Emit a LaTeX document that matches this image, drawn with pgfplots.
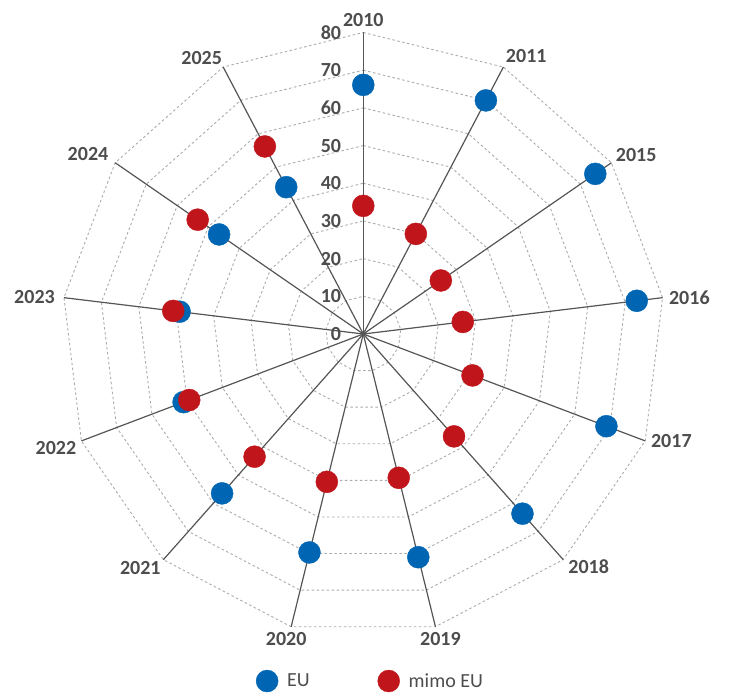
\documentclass[border=0pt]{standalone}
\usepackage{fontspec}
\setmainfont{Carlito}
\usepackage{pgfplots}
\pgfplotsset{compat=1.18}
\usepgfplotslibrary{polar}
\definecolor{eublue}{HTML}{0066B3}
\definecolor{mimored}{HTML}{C0161B}
\definecolor{txt}{HTML}{4D4D4D}
\definecolor{spokec}{HTML}{555555}
\definecolor{gridc}{HTML}{ABABAB}
\tikzset{yr/.style={inner sep=0pt, text=txt, font=\bfseries\fontsize{20}{22}\selectfont}}
\begin{document}
\begin{tikzpicture}
\path[use as bounding box] (-363.3pt,-366pt) rectangle (365.7pt,334pt);
\begin{polaraxis}[
  at={(0pt,0pt)}, anchor=center,
  width=603pt, height=603pt, scale only axis,
  xmin=0, xmax=360, ymin=0, ymax=80,
  hide axis, clip=false,
  legend style={at={(0.512,-0.0755)}, anchor=center, draw=none, fill=none,
    legend columns=2, font=\fontsize{20}{22}\selectfont, text=txt,
    /tikz/every odd column/.append style={column sep=7pt},
    /tikz/every even column/.append style={column sep=66pt}},
]
% polygon grid
\pgfplotsinvokeforeach{10,20,30,40,50,60,70,80}{
\addplot[gridc, line width=0.9pt, dash pattern=on 2.5pt off 2.5pt, forget plot] coordinates {
(90,#1) (62.3077,#1) (34.6154,#1) (6.9231,#1) (339.2308,#1) (311.5385,#1) (283.8462,#1)
(256.1538,#1) (228.4615,#1) (200.7692,#1) (173.0769,#1) (145.3846,#1) (117.6923,#1) (90,#1)};
}
% spokes
\pgfplotsinvokeforeach{90,62.3077,34.6154,6.9231,339.2308,311.5385,283.8462,256.1538,228.4615,200.7692,173.0769,145.3846,117.6923}{
\addplot[spokec, line width=1.2pt, forget plot] coordinates {(0,0) (#1,80)};
}
% year labels
\node[yr, anchor=south, yshift=6pt] at (axis cs:90,80) {2010};
\node[yr, anchor=south west, xshift=2.4pt, yshift=4.4pt] at (axis cs:62.3077,80) {2011};
\node[yr, anchor=south west, xshift=4.3pt, yshift=0.5pt] at (axis cs:34.6154,80) {2015};
\node[yr, anchor=west, xshift=6.3pt] at (axis cs:6.9231,80) {2016};
\node[yr, anchor=west, xshift=5.7pt] at (axis cs:339.2308,80) {2017};
\node[yr, anchor=north west, xshift=5pt] at (axis cs:311.5385,80) {2018};
\node[yr, anchor=north, xshift=5pt, yshift=-5.3pt] at (axis cs:283.8462,80) {2019};
\node[yr, anchor=north, xshift=-5pt, yshift=-5.3pt] at (axis cs:256.1538,80) {2020};
\node[yr, anchor=north east, xshift=-2.6pt, yshift=-2pt] at (axis cs:228.4615,80) {2021};
\node[yr, anchor=north east, xshift=-5pt] at (axis cs:200.7692,80) {2022};
\node[yr, anchor=east, xshift=-9pt, yshift=1pt] at (axis cs:173.0769,80) {2023};
\node[yr, anchor=south east, xshift=-6.7pt, yshift=1.6pt] at (axis cs:145.3846,80) {2024};
\node[yr, anchor=south east, xshift=-1pt, yshift=2pt] at (axis cs:117.6923,80) {2025};
% radial tick labels
\pgfplotsinvokeforeach{0,10,20,30,40,50,60,70,80}{
\node[yr, anchor=east, xshift=-22pt] at (axis cs:90,#1) {#1};
}
% data
\addplot[only marks, mark=*, mark size=11pt, color=eublue] coordinates {
(90,66.1) (62.3077,70.0) (34.6154,74.8) (6.9231,73.1) (339.2308,69.0) (311.5385,63.7)
(283.8462,61.0) (256.1538,59.7) (228.4615,56.5) (200.7692,51.0) (173.0769,49.1) (145.3846,46.5) (117.6923,44.0)};
\addlegendentry{EU}
\addplot[only marks, mark=*, mark size=11pt, color=mimored] coordinates {
(90,34.0) (62.3077,30.0) (34.6154,25.0) (6.9231,26.6) (339.2308,31.0) (311.5385,36.3)
(283.8462,39.3) (256.1538,40.4) (228.4615,43.5) (200.7692,49.4) (173.0769,50.8) (145.3846,53.4) (117.6923,56.2)};
\addlegendentry{mimo EU}
\end{polaraxis}
\end{tikzpicture}
\end{document}
